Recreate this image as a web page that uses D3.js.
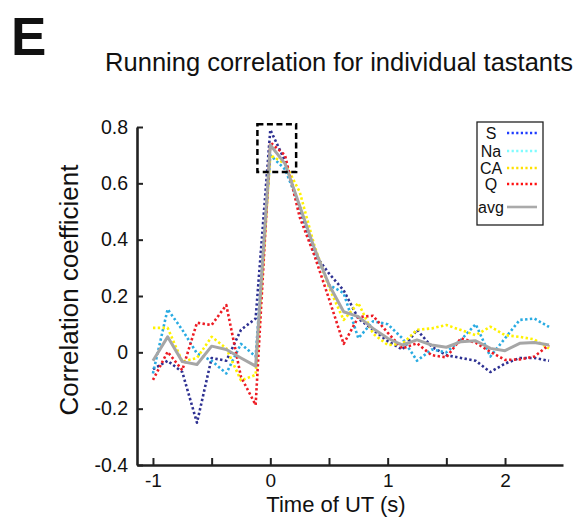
<!DOCTYPE html>
<html lang="en">
<head>
<meta charset="UTF-8">
<title>Running correlation</title>
<script src="https://d3js.org/d3.v7.min.js"></script>
<style>
    body { margin: 0; background: #fff; }
    text { font-family: "Liberation Sans", Arial, sans-serif; fill: #111; }
</style>
</head>
<body>
<div id="chart"></div>
<script>
    // time of UT (s), one value every 0.125 s
    var times = [-1, -0.875, -0.75, -0.625, -0.5, -0.375, -0.25, -0.125,
        0, 0.125, 0.25, 0.375, 0.5, 0.625, 0.75, 0.875,
        1, 1.125, 1.25, 1.375, 1.5, 1.625, 1.75, 1.875,
        2, 2.125, 2.25, 2.375];

    // running correlation per tastant
    var sValues = [-0.06, -0.03, -0.07, -0.25, -0.02, -0.03, 0.08, 0.12,
        0.79, 0.68, 0.51, 0.35, 0.28, 0.22, 0.12, 0.08,
        0.04, 0.01, 0.08, 0.02, -0.01, -0.02, -0.03, -0.07,
        -0.04, -0.02, -0.02, -0.03];
    var naValues = [-0.075, 0.153, 0.08, -0.004, -0.03, -0.075, 0.03, -0.015,
        0.70, 0.65, 0.52, 0.36, 0.24, 0.21, 0.05, 0.11,
        0.10, 0.05, -0.03, 0.01, 0.00, 0.045, 0.10, -0.015,
        0.05, 0.115, 0.12, 0.09];
    var caValues = [0.087, 0.087, -0.033, -0.02, 0.055, 0.014, -0.10, -0.08,
        0.70, 0.67, 0.57, 0.38, 0.23, 0.115, 0.175, 0.067,
        0.026, 0.03, 0.08, 0.085, 0.097, 0.079, 0.061, 0.091,
        0.061, 0.055, 0.046, 0.014];
    var qValues = [-0.098, 0.002, -0.063, 0.105, 0.097, 0.168, -0.087, -0.187,
        0.745, 0.70, 0.48, 0.345, 0.19, 0.03, 0.125, 0.13,
        0.07, 0.014, 0.032, -0.01, -0.018, 0.05, 0.034, 0.002,
        -0.027, -0.025, -0.015, 0.026];
    var avgValues = [-0.03, 0.055, -0.033, -0.043, 0.022, 0.01, -0.02, -0.049,
        0.736, 0.67, 0.52, 0.37, 0.24, 0.144, 0.127, 0.085,
        0.05, 0.026, 0.044, 0.026, 0.018, 0.038, 0.041, 0.014,
        0.006, 0.032, 0.035, 0.026];

    var seriesNames = ["S", "Na", "CA", "Q", "avg"];
    var lineColors = ["#2e3192", "#29abe2", "#fff200", "#ed1c24", "#a6a6a6"];
    var legendColors = ["#1f3dff", "#7ffcff", "#ffe000", "#ff1010", "#aaaaaa"];

    var xTicks = [-1, -0.5, 0, 0.5, 1, 1.5, 2];
    var xLabels = [-1, 0, 1, 2];
    var yTicks = [-0.4, -0.2, 0, 0.2, 0.4, 0.6, 0.8];

    // dashed highlight box around the peak
    var boxTime = [-0.11, 0.22];
    var boxCorr = [0.64, 0.81];

    var allValues = [sValues, naValues, caValues, qValues, avgValues];
    var series = seriesNames.map(function(name, i) {
        return {
            name: name,
            color: lineColors[i],
            legendColor: legendColors[i],
            dotted: name != "avg",
            points: times.map(function(t, j) { return {t: t, v: allValues[i][j]}; })
        };
    });

    var width = 578, height = 520;
    var svg = d3.select("#chart").append("svg")
        .attr("width", width)
        .attr("height", height);

    var x = d3.scaleLinear().domain([-1.136, 2.494]).range([137, 563]);
    var y = d3.scaleLinear().domain([-0.4, 0.8]).range([465, 127]);

    // plain hyphen for negatives, like the original figure
    var fmtX = d3.formatLocale({decimal: ".", thousands: ",", grouping: [3], currency: ["", ""], minus: "-"}).format("d");
    var fmtY = d3.formatLocale({decimal: ".", thousands: ",", grouping: [3], currency: ["", ""], minus: "-"}).format(".1f");

    // panel letter and title
    svg.append("text")
        .attr("x", 11).attr("y", 55)
        .style("font-size", "53px")
        .style("font-weight", "bold")
        .text("E");
    svg.append("text")
        .attr("x", 339).attr("y", 71)
        .attr("text-anchor", "middle")
        .style("font-size", "25.5px")
        .text("Running correlation for individual tastants");

    // lines
    var line = d3.line().x(d => x(d.t)).y(d => y(d.v));
    svg.append("g").selectAll("path")
        .data(series)
        .join("path")
        .attr("d", d => line(d.points))
        .attr("fill", "none")
        .attr("stroke", d => d.color)
        .attr("stroke-width", d => d.dotted ? 2.6 : 3)
        .attr("stroke-dasharray", d => d.dotted ? "2.4,2.4" : null)
        .attr("stroke-linejoin", "round");

    svg.append("rect")
        .attr("x", x(boxTime[0]))
        .attr("y", y(boxCorr[1]))
        .attr("width", x(boxTime[1]) - x(boxTime[0]))
        .attr("height", y(boxCorr[0]) - y(boxCorr[1]))
        .attr("fill", "none")
        .attr("stroke", "#000")
        .attr("stroke-width", 2.5)
        .attr("stroke-dasharray", "6,3.5");

    // axes
    var xAxis = d3.axisBottom(x)
        .tickValues(xTicks)
        .tickSizeInner(-7)
        .tickSizeOuter(0)
        .tickFormat(d => xLabels.indexOf(d) >= 0 ? fmtX(d) : "");
    var gx = svg.append("g")
        .attr("transform", "translate(0," + y.range()[0] + ")")
        .call(xAxis);
    gx.select(".domain").attr("stroke", "#222").attr("stroke-width", 2.6);
    gx.selectAll(".tick line").attr("stroke", "#222").attr("stroke-width", 2);
    gx.selectAll(".tick text")
        .attr("y", 22)
        .attr("dy", 0)
        .style("font-size", "19px")
        .style("font-family", "'Liberation Sans', Arial, sans-serif")
        .attr("fill", "#111");

    var yAxis = d3.axisLeft(y)
        .tickValues(yTicks)
        .tickSizeInner(-6)
        .tickSizeOuter(0)
        .tickFormat(d => d == 0 ? "0" : fmtY(d));
    var gy = svg.append("g")
        .attr("transform", "translate(" + x.range()[0] + ",0)")
        .call(yAxis);
    gy.select(".domain").attr("stroke", "#222").attr("stroke-width", 2.6);
    gy.selectAll(".tick line").attr("stroke", "#222").attr("stroke-width", 2);
    gy.selectAll(".tick text")
        .attr("x", -9)
        .style("font-size", "19.5px")
        .style("font-family", "'Liberation Sans', Arial, sans-serif")
        .attr("fill", "#111");

    svg.append("text")
        .attr("x", 336).attr("y", 512)
        .attr("text-anchor", "middle")
        .style("font-size", "22px")
        .text("Time of UT (s)");
    svg.append("text")
        .attr("transform", "translate(78,290) rotate(-90)")
        .attr("text-anchor", "middle")
        .style("font-size", "26px")
        .text("Correlation coefficient");

    // legend
    var legend = svg.append("g");
    legend.append("rect")
        .attr("x", 477).attr("y", 122)
        .attr("width", 66).attr("height", 103)
        .attr("fill", "#fff")
        .attr("stroke", "#222")
        .attr("stroke-width", 1.3);
    var legendY = [133, 151, 168, 184, 207];
    var items = legend.selectAll("g.item")
        .data(series)
        .join("g")
        .attr("class", "item")
        .attr("transform", (d, i) => "translate(0," + legendY[i] + ")");
    items.append("text")
        .attr("x", 491)
        .attr("dy", "0.35em")
        .attr("text-anchor", "middle")
        .style("font-size", "16px")
        .text(d => d.name);
    items.append("line")
        .attr("x1", 507).attr("x2", 537)
        .attr("stroke", d => d.legendColor)
        .attr("stroke-width", d => d.dotted ? 2.4 : 2.6)
        .attr("stroke-dasharray", d => d.dotted ? "2.2,2.4" : null);
</script>
</body>
</html>
